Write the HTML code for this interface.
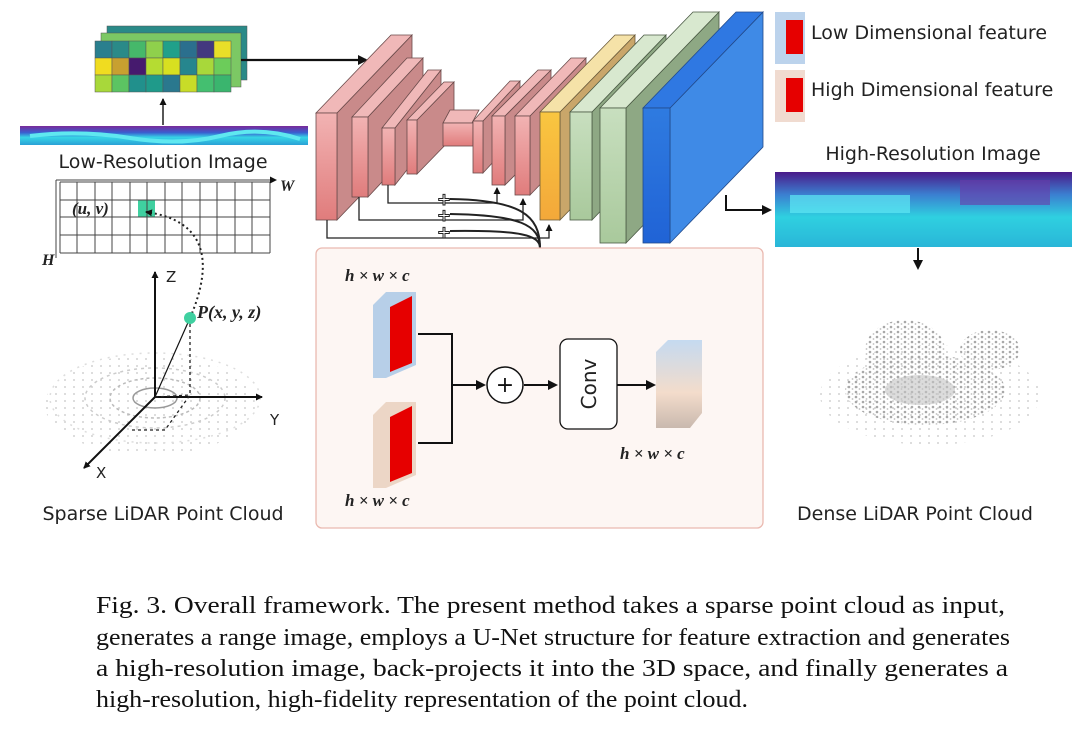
<!DOCTYPE html>
<html><head><meta charset="utf-8"><style>
body{margin:0;background:#fff;width:1080px;height:732px;overflow:hidden}
svg{display:block}
.s{font-family:"DejaVu Sans","Liberation Sans",sans-serif;fill:#222}
.m{font-family:"Liberation Serif",serif;font-style:italic;font-weight:bold;fill:#222}
.cap{font-family:"Liberation Serif",serif;font-size:24.5px;fill:#111}
</style></head><body>
<svg width="1080" height="732" viewBox="0 0 1080 732" xmlns="http://www.w3.org/2000/svg">
<defs>
<marker id="ar" markerWidth="10" markerHeight="10" refX="8" refY="5" orient="auto" markerUnits="userSpaceOnUse"><path d="M0,0 L10,5 L0,10 z" fill="#111"/></marker>
<marker id="as" markerWidth="7" markerHeight="7" refX="6" refY="3.5" orient="auto" markerUnits="userSpaceOnUse"><path d="M0,0 L7,3.5 L0,7 z" fill="#111"/></marker>
<pattern id="dots" width="7" height="5" patternUnits="userSpaceOnUse"><circle cx="2" cy="2" r="1.3" fill="#a8a8a8"/><circle cx="5.5" cy="4" r="0.9" fill="#c0c0c0"/></pattern>
<pattern id="dots2" width="9" height="7" patternUnits="userSpaceOnUse"><circle cx="2" cy="2" r="0.9" fill="#c4c4c4"/></pattern>
<linearGradient id="rg" x1="0" y1="0" x2="0" y2="1"><stop offset="0" stop-color="#f2b3b3"/><stop offset="1" stop-color="#e07c7c"/></linearGradient>
<linearGradient id="yg" x1="0" y1="0" x2="0" y2="1"><stop offset="0" stop-color="#f9c640"/><stop offset="1" stop-color="#f3a83a"/></linearGradient>
<linearGradient id="gg" x1="0" y1="0" x2="0" y2="1"><stop offset="0" stop-color="#c8dfbf"/><stop offset="1" stop-color="#a9c99c"/></linearGradient>
<linearGradient id="bg" x1="0" y1="0" x2="0" y2="1"><stop offset="0" stop-color="#2f7be0"/><stop offset="1" stop-color="#2063d6"/></linearGradient>
<linearGradient id="og" x1="0" y1="0" x2="0" y2="1"><stop offset="0" stop-color="#c5daf0"/><stop offset="0.6" stop-color="#f3dccb"/><stop offset="1" stop-color="#c9b9ae"/></linearGradient>
<linearGradient id="ri" x1="0" y1="0" x2="0" y2="1"><stop offset="0" stop-color="#4a1a8a"/><stop offset="0.3" stop-color="#3b7fd0"/><stop offset="0.6" stop-color="#2fd0e0"/><stop offset="1" stop-color="#29b6d8"/></linearGradient>
<linearGradient id="li" x1="0" y1="0" x2="0" y2="1"><stop offset="0" stop-color="#7a2a9a"/><stop offset="0.35" stop-color="#3a5fd0"/><stop offset="0.6" stop-color="#36d5e6"/><stop offset="1" stop-color="#2aa0d6"/></linearGradient>
</defs>

<g stroke="#555" stroke-width="0.5">
<rect x="107" y="26" width="140" height="54" fill="#2a8a88"/>
<rect x="101" y="33" width="140" height="54" fill="#7cc864"/>
<rect x="95" y="41" width="17" height="17" fill="#2a7f8e"/><rect x="112" y="41" width="17" height="17" fill="#2a8a88"/><rect x="129" y="41" width="17" height="17" fill="#46b86a"/><rect x="146" y="41" width="17" height="17" fill="#8fd04c"/><rect x="163" y="41" width="17" height="17" fill="#21a08a"/><rect x="180" y="41" width="17" height="17" fill="#2b6f8e"/><rect x="197" y="41" width="17" height="17" fill="#43387f"/><rect x="214" y="41" width="17" height="17" fill="#e8df28"/>
<rect x="95" y="58" width="17" height="17" fill="#f0dc20"/><rect x="112" y="58" width="17" height="17" fill="#c8a030"/><rect x="129" y="58" width="17" height="17" fill="#461a6e"/><rect x="146" y="58" width="17" height="17" fill="#b5dc32"/><rect x="163" y="58" width="17" height="17" fill="#d8e020"/><rect x="180" y="58" width="17" height="17" fill="#26868e"/><rect x="197" y="58" width="17" height="17" fill="#a8d83a"/><rect x="214" y="58" width="17" height="17" fill="#6ccc5a"/>
<rect x="95" y="75" width="17" height="17" fill="#a8d83a"/><rect x="112" y="75" width="17" height="17" fill="#5cc462"/><rect x="129" y="75" width="17" height="17" fill="#21908c"/><rect x="146" y="75" width="17" height="17" fill="#1f9a8a"/><rect x="163" y="75" width="17" height="17" fill="#2a788e"/><rect x="180" y="75" width="17" height="17" fill="#c8dc28"/><rect x="197" y="75" width="17" height="17" fill="#44bf70"/><rect x="214" y="75" width="17" height="17" fill="#3ab56e"/>
</g>
<line x1="241" y1="60" x2="366" y2="60" stroke="#111" stroke-width="2.2" marker-end="url(#ar)"/>
<line x1="163" y1="125" x2="163" y2="99" stroke="#444" stroke-width="1.8" marker-end="url(#as)"/>
<rect x="20" y="126" width="288" height="19" fill="url(#li)"/>
<path d="M30,136 Q80,130 130,138 T220,136 T300,139" stroke="#5fe8f0" stroke-width="4" fill="none"/>
<text x="163" y="168" class="s" font-size="19" text-anchor="middle">Low-Resolution Image</text>

<g stroke="#444" stroke-width="1" fill="none">
<rect x="138" y="200" width="17" height="17" fill="#3fd0a0" stroke="none"/>
<path d="M60,182 H270 M60,200 H270 M60,217 H270 M60,235 H270 M60,253 H270"/>
<path d="M60,182 V253 M77,182 V253 M95,182 V253 M112,182 V253 M130,182 V253 M147,182 V253 M165,182 V253 M182,182 V253 M200,182 V253 M217,182 V253 M235,182 V253 M252,182 V253 M270,182 V253"/>
<line x1="56" y1="180" x2="276" y2="180" marker-end="url(#as)"/>
<line x1="56" y1="180" x2="56" y2="258"/>
</g>
<text x="280" y="191" class="m" font-weight="normal" font-size="16">W</text>
<text x="42" y="265" class="m" font-weight="normal" font-size="16">H</text>
<text x="72" y="214" class="m" font-weight="normal" font-size="17">(u, v)</text>
<path d="M190,318 C215,260 205,220 146,212" stroke="#222" stroke-width="2" stroke-dasharray="2,3" fill="none" marker-end="url(#as)"/>

<ellipse cx="150" cy="405" rx="105" ry="50" fill="url(#dots2)"/>
<g fill="none">
<ellipse cx="155" cy="398" rx="70" ry="30" stroke="#ccc" stroke-width="1.5" stroke-dasharray="3,4"/>
<ellipse cx="155" cy="398" rx="45" ry="20" stroke="#bbb" stroke-width="1.5" stroke-dasharray="3,3"/>
<ellipse cx="155" cy="398" rx="22" ry="10" stroke="#999" stroke-width="1.5"/>
<ellipse cx="155" cy="398" rx="105" ry="45" stroke="#ddd" stroke-width="1.5" stroke-dasharray="2,6"/>
</g>
<g stroke="#111" stroke-width="2" fill="none">
<line x1="155" y1="397" x2="155" y2="272" marker-end="url(#as)"/>
<line x1="155" y1="397" x2="262" y2="397" marker-end="url(#as)"/>
<line x1="155" y1="397" x2="84" y2="468" marker-end="url(#as)"/>
<line x1="155" y1="397" x2="190" y2="318" stroke-width="1.2"/>
</g>
<path d="M190,318 L190,395 L165,430 M155,397 L190,395 M165,430 L130,430" stroke="#222" stroke-width="1.3" stroke-dasharray="3,3" fill="none"/>
<circle cx="190" cy="318" r="6" fill="#3fd0a0"/>
<text x="166" y="282" class="s" font-size="15">Z</text>
<text x="270" y="425" class="s" font-size="15">Y</text>
<text x="96" y="478" class="s" font-size="15">X</text>
<text x="197" y="318" class="m" font-weight="normal" font-size="18">P(x, y, z)</text>
<text x="163" y="520" class="s" font-size="19" text-anchor="middle">Sparse LiDAR Point Cloud</text>

<g stroke="#6a4a4a" stroke-width="0.8">
<polygon points="337,113 412,35 412,142 337,220" fill="#c98a8a"/><polygon points="316,113 391,35 412,35 337,113" fill="#f0b8b8"/><rect x="316" y="113" width="21" height="107" fill="url(#rg)"/>
<polygon points="368,117 423,58 423,138 368,197" fill="#c98a8a"/><polygon points="352,117 407,58 423,58 368,117" fill="#f0b8b8"/><rect x="352" y="117" width="16" height="80" fill="url(#rg)"/>
<polygon points="395,128 441,70 441,127 395,185" fill="#c98a8a"/><polygon points="382,128 428,70 441,70 395,128" fill="#f0b8b8"/><rect x="382" y="128" width="13" height="57" fill="url(#rg)"/>
<polygon points="417,120 454,82 454,136 417,174" fill="#c98a8a"/><polygon points="407,120 444,82 454,82 417,120" fill="#f0b8b8"/><rect x="407" y="120" width="10" height="54" fill="url(#rg)"/>
<polygon points="443,123 450,110 479,110 472,123" fill="#f0b8b8"/><rect x="443" y="123" width="30" height="23" fill="url(#rg)"/>
<polygon points="483,121 520,81 520,133 483,173" fill="#c98a8a"/><polygon points="473,121 510,81 520,81 483,121" fill="#f0b8b8"/><rect x="473" y="121" width="10" height="52" fill="url(#rg)"/>
<polygon points="505,116 551,70 551,139 505,185" fill="#c98a8a"/><polygon points="492,116 538,70 551,70 505,116" fill="#f0b8b8"/><rect x="492" y="116" width="13" height="69" fill="url(#rg)"/>
<polygon points="530,116 586,58 586,137 530,195" fill="#c98a8a"/><polygon points="515,116 571,58 586,58 530,116" fill="#f0b8b8"/><rect x="515" y="116" width="15" height="79" fill="url(#rg)"/>
<polygon points="560,112 635,35 635,143 560,220" fill="#c9a66a" stroke="#6a5a3a"/><polygon points="540,112 615,35 635,35 560,112" fill="#f5e2a8" stroke="#6a5a3a"/><rect x="540" y="112" width="20" height="108" fill="url(#yg)" stroke="#6a5a3a"/>
<polygon points="592,112 666,35 666,143 592,220" fill="#8ea884" stroke="#4a5a44"/><polygon points="570,112 644,35 666,35 592,112" fill="#d8e8cf" stroke="#4a5a44"/><rect x="570" y="112" width="22" height="108" fill="url(#gg)" stroke="#4a5a44"/>
<polygon points="626,108 719,12 719,147 626,243" fill="#8ea884" stroke="#4a5a44"/><polygon points="600,108 693,12 719,12 626,108" fill="#d8e8cf" stroke="#4a5a44"/><rect x="600" y="108" width="26" height="135" fill="url(#gg)" stroke="#4a5a44"/>
<polygon points="670,108 763,12 763,147 670,243" fill="#3f8ae6" stroke="#224a8a"/><polygon points="643,108 736,12 763,12 670,108" fill="#2f78e2" stroke="#224a8a"/><rect x="643" y="108" width="27" height="135" fill="url(#bg)" stroke="#224a8a"/>
</g>
<g stroke="#222" stroke-width="1.3" fill="none">
<path d="M327,220 V238 H549 V225" marker-end="url(#as)"/>
<path d="M359,197 V220 H523 V199" marker-end="url(#as)"/>
<path d="M388,185 V203 H497 V188" marker-end="url(#as)"/>
<path d="M540,248 C540,215 520,200 450,199" stroke-width="2"/>
<path d="M540,248 C540,225 520,215 450,214" stroke-width="2"/>
<path d="M540,248 C540,235 520,230 450,231" stroke-width="2"/>
</g>
<g font-family="DejaVu Sans" font-size="17" font-weight="bold" fill="#fff" stroke="#222" stroke-width="1" text-anchor="middle">
<text x="444" y="205">+</text><text x="444" y="221">+</text><text x="444" y="238">+</text>
</g>
<path d="M726,195 V210 H770" stroke="#111" stroke-width="2" fill="none" marker-end="url(#ar)"/>

<rect x="316" y="248" width="447" height="280" rx="6" fill="#fdf6f3" stroke="#eab9b0" stroke-width="1.3"/>
<text x="345" y="281" class="m" font-size="17">h × w × c</text>
<text x="345" y="506" class="m" font-size="17">h × w × c</text>
<text x="620" y="459" class="m" font-size="17">h × w × c</text>
<polygon points="373,305 386,292 416,292 416,365 386,378 373,378" fill="#b7cfe8"/>
<polygon points="390,307 412,296 412,363 390,372" fill="#e60000"/>
<polygon points="373,415 386,402 416,402 416,475 386,488 373,488" fill="#ecd6c6"/>
<polygon points="390,417 412,406 412,473 390,482" fill="#e60000"/>
<g stroke="#111" stroke-width="2" fill="none">
<path d="M418,334 H452 V443 H418"/>
<line x1="452" y1="385" x2="484" y2="385" marker-end="url(#ar)"/>
<line x1="524" y1="385" x2="556" y2="385" marker-end="url(#ar)"/>
<line x1="617" y1="385" x2="654" y2="385" marker-end="url(#ar)"/>
</g>
<circle cx="505" cy="385" r="18" fill="#fff" stroke="#111" stroke-width="1.5"/>
<text x="505" y="392" font-family="DejaVu Sans" font-size="22" text-anchor="middle" fill="#111">+</text>
<rect x="560" y="339" width="57" height="90" rx="8" fill="#fff" stroke="#111" stroke-width="1.3"/>
<text x="0" y="0" class="s" font-size="20" text-anchor="middle" transform="translate(596,384) rotate(-90)">Conv</text>
<polygon points="656,352 668,340 702,340 702,413 690,428 656,428" fill="url(#og)"/>

<rect x="775" y="12" width="30" height="52" fill="#bcd3ec"/><rect x="786" y="20" width="17" height="34" fill="#e60000"/>
<rect x="775" y="70" width="30" height="52" fill="#f0dbd0"/><rect x="786" y="78" width="17" height="34" fill="#e60000"/>
<text x="811" y="39" class="s" font-size="19">Low Dimensional feature</text>
<text x="811" y="96" class="s" font-size="19">High Dimensional feature</text>

<text x="933" y="160" class="s" font-size="19" text-anchor="middle">High-Resolution Image</text>
<rect x="775" y="172" width="297" height="75" fill="url(#ri)"/>
<rect x="790" y="195" width="120" height="18" fill="#5ee8f4" opacity="0.7"/>
<rect x="960" y="180" width="90" height="25" fill="#6a3aa8" opacity="0.6"/>
<line x1="918" y1="248" x2="918" y2="268" stroke="#111" stroke-width="2" marker-end="url(#ar)"/>
<ellipse cx="930" cy="395" rx="110" ry="50" fill="url(#dots2)"/>
<ellipse cx="925" cy="390" rx="80" ry="35" fill="url(#dots)"/>
<ellipse cx="905" cy="350" rx="40" ry="30" fill="url(#dots)"/>
<ellipse cx="990" cy="350" rx="30" ry="20" fill="url(#dots)"/>
<ellipse cx="920" cy="390" rx="35" ry="15" fill="#c4c4c4" opacity="0.6"/>
<text x="915" y="520" class="s" font-size="19" text-anchor="middle">Dense LiDAR Point Cloud</text>

<text x="96" y="613" class="cap" textLength="909" lengthAdjust="spacingAndGlyphs">Fig. 3.  Overall framework.  The present method takes a sparse point cloud as input,</text>
<text x="96" y="645" class="cap" textLength="914" lengthAdjust="spacingAndGlyphs">generates a range image, employs a U-Net structure for feature extraction and generates</text>
<text x="96" y="676" class="cap" textLength="912" lengthAdjust="spacingAndGlyphs">a high-resolution image, back-projects it into the 3D space, and finally generates a</text>
<text x="96" y="707" class="cap" textLength="652" lengthAdjust="spacingAndGlyphs">high-resolution, high-fidelity representation of the point cloud.</text>
</svg>
</body></html>
